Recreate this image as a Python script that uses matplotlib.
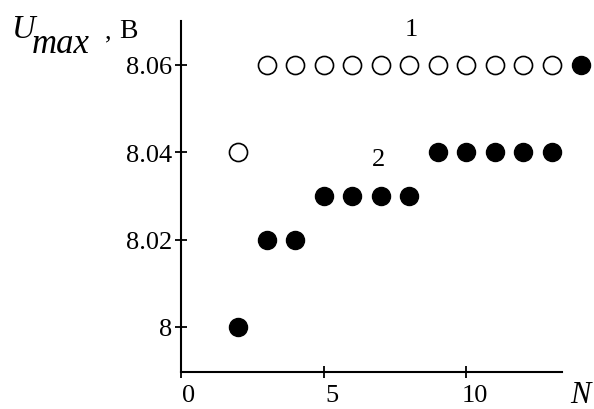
import matplotlib
matplotlib.use("Agg")
import matplotlib.pyplot as plt
from matplotlib.transforms import ScaledTranslation

# Series 1 (open circles) and series 2 (filled circles): U_max versus N
n_open = [2, 3, 4, 5, 6, 7, 8, 9, 10, 11, 12, 13]
u_open = [8.04, 8.06, 8.06, 8.06, 8.06, 8.06, 8.06, 8.06, 8.06, 8.06, 8.06, 8.06]
n_filled = [2, 3, 4, 5, 6, 7, 8, 9, 10, 11, 12, 13, 14]
u_filled = [8.00, 8.02, 8.02, 8.03, 8.03, 8.03, 8.03, 8.04, 8.04, 8.04, 8.04, 8.04, 8.06]
x_ticks = [0, 5, 10]
y_ticks = [8.00, 8.02, 8.04, 8.06]
y_tick_labels = ["8", "8.02", "8.04", "8.06"]

plt.rcParams["font.family"] = ["Liberation Serif", "DejaVu Serif"]

fig = plt.figure(figsize=(5.94, 4.10), dpi=100)
ax = fig.add_axes([0.3047, 0.0903, 0.6414, 0.8561])

ax.plot(n_open, u_open, linestyle="none", marker="o", markersize=13,
        markerfacecolor="white", markeredgecolor="black", markeredgewidth=1.2,
        clip_on=False, zorder=3)
ax.plot(n_filled, u_filled, linestyle="none", marker="o", markersize=13,
        markerfacecolor="black", markeredgecolor="black", clip_on=False, zorder=4)

ax.set_xlim(0, 13.35)
ax.set_ylim(7.9897, 8.070)
for side in ("top", "right"):
    ax.spines[side].set_visible(False)
for side in ("left", "bottom"):
    ax.spines[side].set_linewidth(1.5)

ax.set_xticks(x_ticks)
ax.set_yticks(y_ticks)
ax.set_yticklabels(y_tick_labels)
ax.tick_params(direction="inout", length=9, width=1.3, labelsize=19, pad=2)
ax.tick_params(axis="x", pad=4)
# x tick labels sit a little right of their ticks in the original
shift = ScaledTranslation(8 / 100, 0, fig.dpi_scale_trans)
for lab in ax.get_xticklabels():
    lab.set_transform(lab.get_transform() + shift)

ax.text(8.08, 8.0682, "1", fontsize=19, ha="center", va="center")
ax.text(6.92, 8.0384, "2", fontsize=19, ha="center", va="center")
fig.text(580 / 594, 1 - 381 / 410, "N", fontsize=22, style="italic", ha="center", va="top")

# y axis label: U, subscript "max", then ", В"
fig.text(12 / 594, 1 - 38 / 410, "U", fontsize=23.5, style="italic", ha="left", va="baseline")
fig.text(32 / 594, 1 - 53 / 410, "max", fontsize=25, style="italic", ha="left", va="baseline")
fig.text(105 / 594, 1 - 38 / 410, ",", fontsize=19, ha="left", va="baseline")
fig.text(119 / 594, 1 - 38 / 410, "В", fontsize=20, ha="left", va="baseline")

fig.savefig("out.png", dpi=100)
